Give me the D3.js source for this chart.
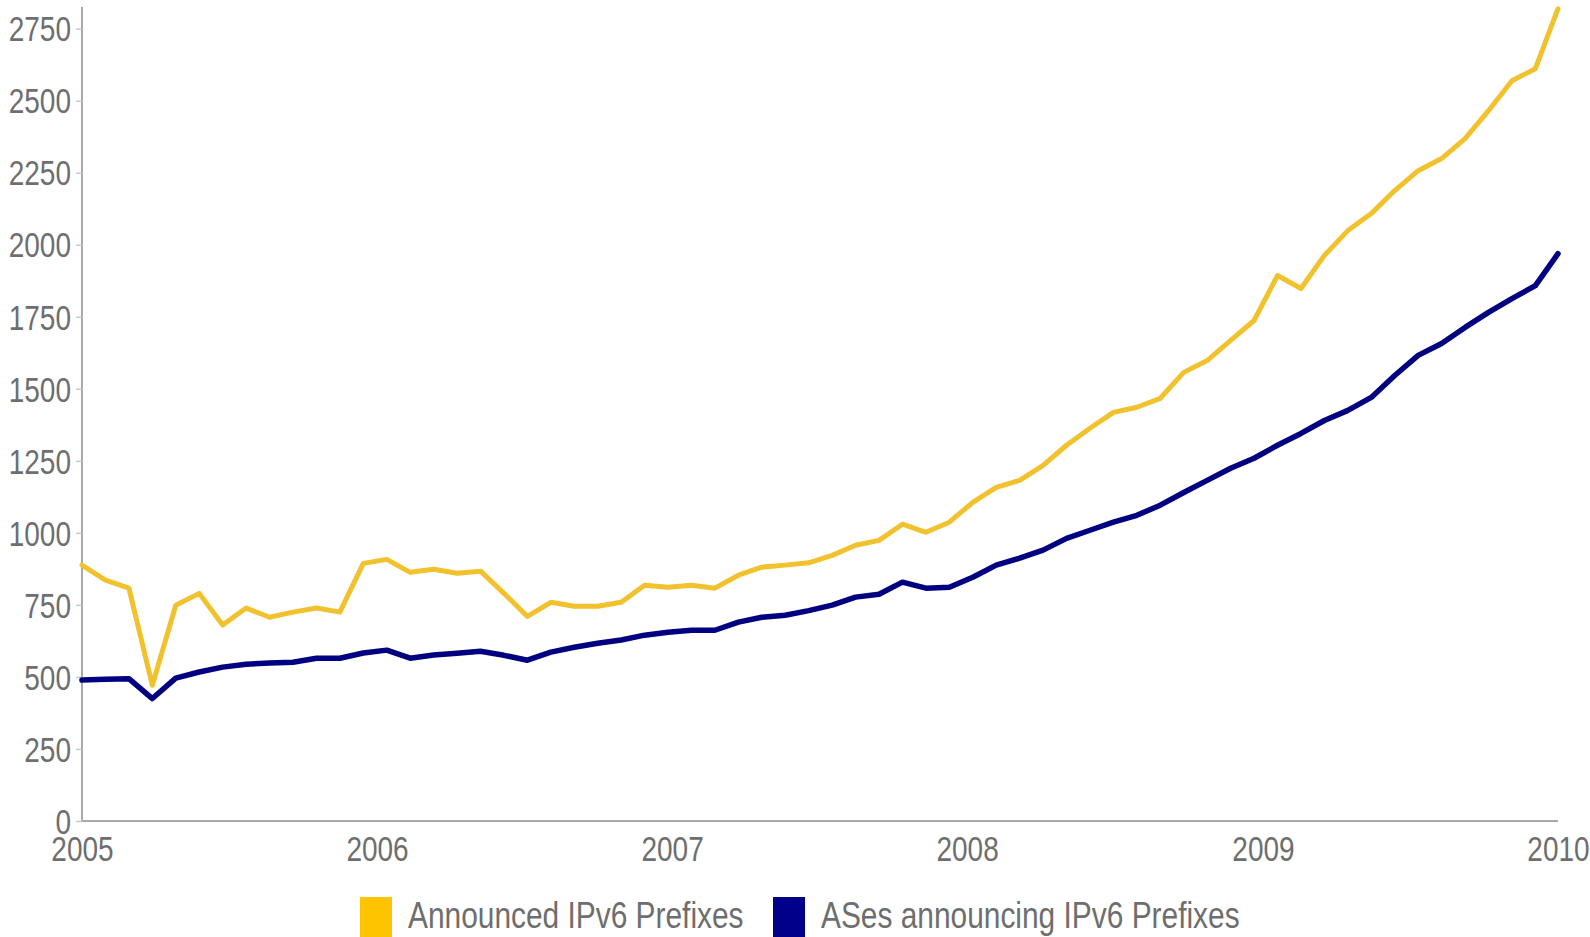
<!DOCTYPE html>
<html>
<head>
<meta charset="utf-8">
<script src="https://cdn.jsdelivr.net/npm/d3@7"></script>
<style>
  html, body { margin: 0; padding: 0; background: #fff; }
  svg { display: block; }
  text { font-family: "Liberation Sans", Arial, sans-serif; fill: #6e6e6e; }
</style>
</head>
<body>
<svg id="chart" width="1590" height="937"></svg>
<script>
// ---- data ----
const dates = [
  "2005-01-01","2005-01-30","2005-02-28","2005-03-29","2005-04-27","2005-05-26","2005-06-24","2005-07-23",
  "2005-08-21","2005-09-19","2005-10-18","2005-11-16","2005-12-15","2006-01-13","2006-02-11","2006-03-12",
  "2006-04-10","2006-05-09","2006-06-07","2006-07-06","2006-08-04","2006-09-02","2006-10-01","2006-10-30",
  "2006-11-28","2006-12-27","2007-01-25","2007-02-23","2007-03-24","2007-04-22","2007-05-21","2007-06-19",
  "2007-07-18","2007-08-16","2007-09-14","2007-10-13","2007-11-11","2007-12-10","2008-01-08","2008-02-06",
  "2008-03-06","2008-04-04","2008-05-03","2008-06-01","2008-06-30","2008-07-29","2008-08-27","2008-09-25",
  "2008-10-24","2008-11-22","2008-12-21","2009-01-19","2009-02-17","2009-03-18","2009-04-16","2009-05-15",
  "2009-06-13","2009-07-12","2009-08-10","2009-09-08","2009-10-07","2009-11-05","2009-12-04","2010-01-01"
];
const announcedPrefixes = [
  888, 836, 808, 471, 749, 790, 680, 739, 707, 725, 739, 725, 894, 908, 863, 874,
  860, 867, 790, 710, 759, 745, 745, 759, 818, 811, 818, 808, 853, 881, 888, 896,
  922, 957, 974, 1030, 1002, 1037, 1106, 1158, 1182, 1234, 1304, 1363, 1418, 1436,
  1467, 1557, 1598, 1668, 1737, 1893, 1848, 1963, 2049, 2108, 2188, 2257, 2299, 2368,
  2465, 2569, 2611, 2819
];
const asesAnnouncing = [
  489, 492, 494, 425, 496, 517, 534, 544, 548, 551, 565, 565, 583, 593, 565, 576,
  582, 589, 575, 558, 586, 603, 617, 628, 645, 655, 662, 662, 690, 707, 714, 730,
  749, 777, 787, 829, 808, 811, 846, 888, 912, 940, 981, 1009, 1037, 1061,
  1096, 1140, 1182, 1224, 1259, 1304, 1345, 1390, 1425, 1470, 1546, 1616, 1657, 1713,
  1765, 1813, 1858, 1969
];
const yTicks = [0, 250, 500, 750, 1000, 1250, 1500, 1750, 2000, 2250, 2500, 2750];
const yearTicks = [2005, 2006, 2007, 2008, 2009, 2010];
const seriesNames = ["Announced IPv6 Prefixes", "ASes announcing IPv6 Prefixes"];
const seriesColors = ["#f2c12e", "#000080"];
const legendColors = ["#ffc400", "#00008b"];

// ---- chart ----
const parse = d3.timeParse("%Y-%m-%d");
const dateObjs = dates.map(parse);
const svg = d3.select("#chart");

// condense text horizontally (narrow face look)
function condense(sel, factor) {
  sel.each(function () {
    const w = this.getComputedTextLength();
    d3.select(this).attr("textLength", w * factor).attr("lengthAdjust", "spacingAndGlyphs");
  });
}

const x = d3.scaleTime()
  .domain([new Date(2005, 0, 1), new Date(2010, 0, 1)])
  .range([82, 1558]);
const y = d3.scaleLinear().domain([0, 2825]).range([821, 7]);

// y axis
const yAxis = svg.append("g").attr("transform", "translate(82,0)")
  .call(d3.axisLeft(y).tickValues(yTicks).tickSize(6).tickPadding(5).tickFormat(d3.format("d")));
yAxis.select(".domain").attr("stroke", "#a9a9a9").attr("stroke-width", 2).attr("d", "M0,7V821");
yAxis.selectAll(".tick line").attr("stroke", "#c8c8c8").attr("stroke-width", 1.5);
yAxis.selectAll(".tick text").style("font-size", "35px").attr("fill", "#6e6e6e").attr("dy", "0.35em")
  .call(condense, 0.8);

// x axis
const xAxis = svg.append("g").attr("transform", "translate(0,821)")
  .call(d3.axisBottom(x).tickValues(yearTicks.map(yv => new Date(yv, 0, 1))).tickSize(0).tickPadding(15)
    .tickFormat(d3.timeFormat("%Y")));
xAxis.select(".domain").attr("stroke", "#a9a9a9").attr("stroke-width", 2).attr("d", "M82,0H1558");
xAxis.selectAll(".tick text").style("font-size", "35px").attr("fill", "#6e6e6e").attr("dy", "0.71em")
  .call(condense, 0.8);

// lines
const seriesData = [announcedPrefixes, asesAnnouncing];
const seriesWidths = [5, 5.5];
const line = d3.line().x((d, i) => x(dateObjs[i])).y(d => y(d));
seriesData.forEach((vals, k) => {
  svg.append("path")
    .datum(vals)
    .attr("fill", "none")
    .attr("stroke", seriesColors[k])
    .attr("stroke-width", seriesWidths[k])
    .attr("stroke-linejoin", "round")
    .attr("stroke-linecap", "round")
    .attr("d", line);
});

// legend
const legendX = [360, 773];
const legend = svg.append("g");
seriesNames.forEach((name, k) => {
  legend.append("rect")
    .attr("x", legendX[k]).attr("y", 897)
    .attr("width", 32).attr("height", 44)
    .attr("fill", legendColors[k]);
  legend.append("text")
    .attr("x", legendX[k] + 48).attr("y", 928)
    .style("font-size", "36px")
    .attr("fill", "#6e6e6e")
    .text(name)
    .call(condense, 0.83);
});
</script>
</body>
</html>
